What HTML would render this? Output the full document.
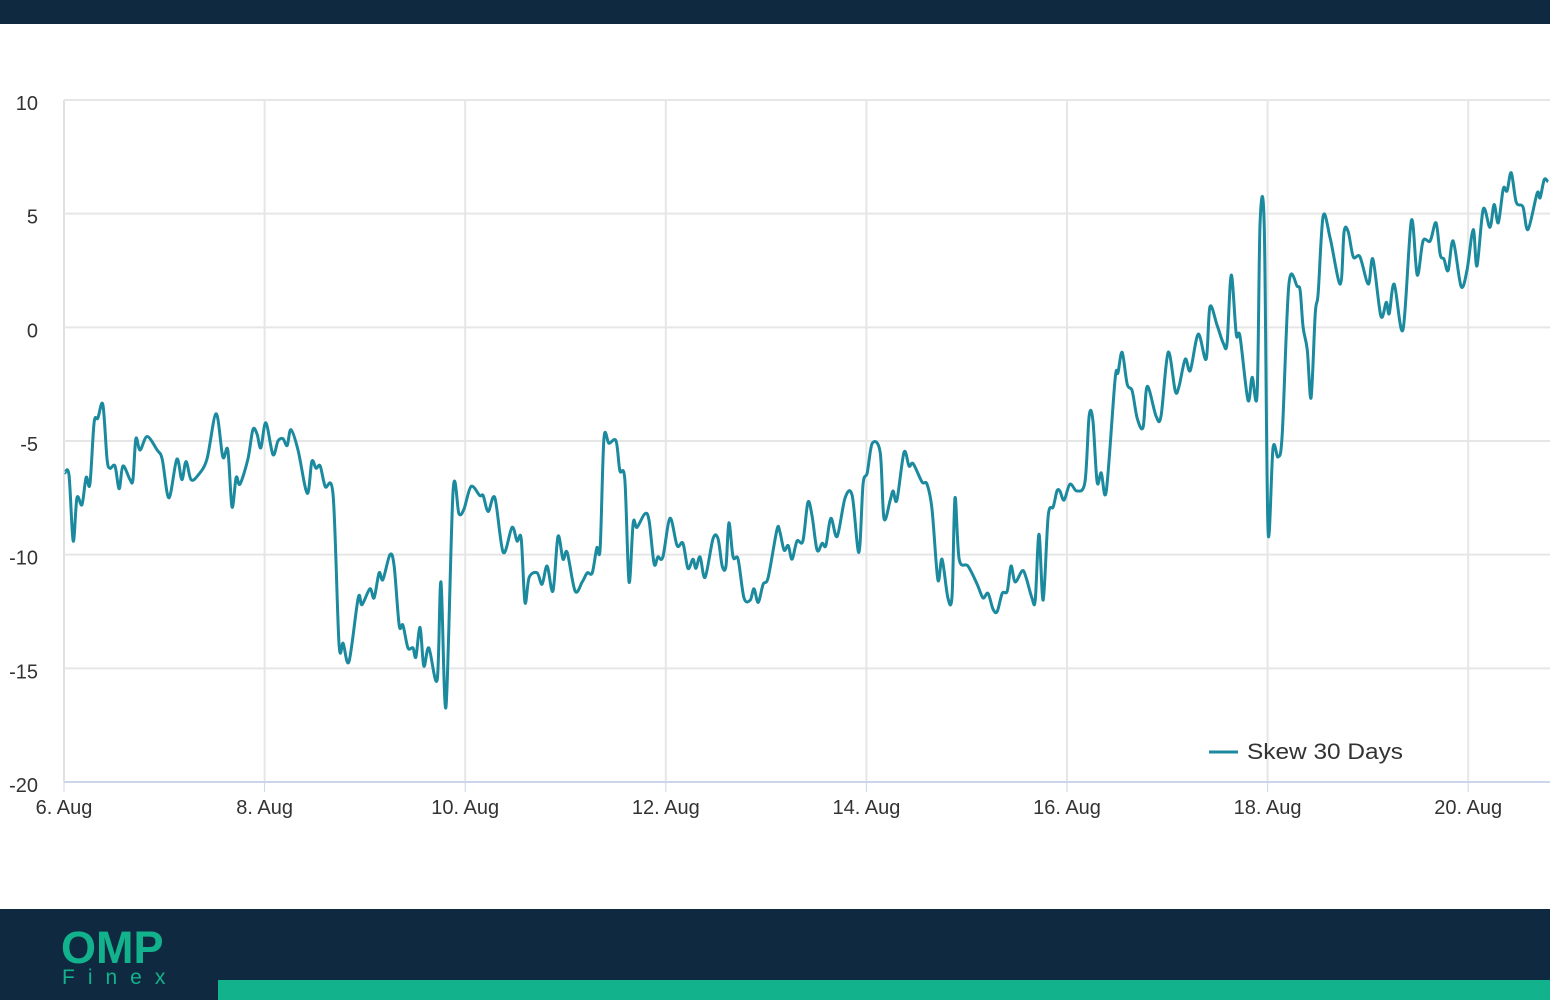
<!DOCTYPE html>
<html><head><meta charset="utf-8"><style>
body{margin:0;width:1550px;height:1000px;overflow:hidden;background:#fff;font-family:"Liberation Sans",sans-serif}
#top{position:absolute;left:0;top:0;width:1550px;height:24px;background:#0f2a40}
#foot{position:absolute;left:0;top:909px;width:1550px;height:91px;background:#0f2a40}
#bar{position:absolute;left:218px;top:980px;width:1332px;height:20px;background:#12b28c}
#omp{position:absolute;left:61px;top:922px;font-size:45px;font-weight:bold;color:#12b28c;letter-spacing:0px}
#finex{position:absolute;left:62px;top:966px;font-size:21px;color:#12b28c;letter-spacing:13px}
svg{position:absolute;left:0;top:0}
</style></head><body>
<div id="top"></div>
<svg id="chart" width="1550" height="1000"></svg>
<div id="foot"></div>
<div id="bar"></div>
<div id="omp">OMP</div>
<div id="finex">Finex</div>
<script>
const hours=[0.2,1.2,2.2,3.1,4.3,5.3,6.2,7.2,8.1,9.3,10.3,11.0,12.2,13.2,14.1,15.8,16.5,17.2,18.2,19.9,22.3,23.5,25.1,27.0,28.2,29.2,30.4,32.1,34.2,36.4,38.0,39.2,40.2,41.2,42.1,44.0,45.2,46.2,47.1,48.3,50.0,51.2,52.4,53.4,54.3,56.0,58.2,59.3,60.3,61.3,62.5,64.4,65.8,66.8,68.2,70.4,71.3,73.2,74.2,75.4,76.3,78.0,79.0,80.2,81.1,82.3,83.5,84.2,85.2,86.1,87.3,89.3,90.2,91.4,93.1,94.5,95.7,97.4,99.5,100.3,101.5,103.1,105.1,107.2,108.4,109.4,110.3,111.3,113.2,114.4,115.6,117.0,118.2,119.4,120.4,122.3,124.0,125.2,126.4,127.5,128.3,129.2,130.4,132.1,133.0,134.2,135.2,136.2,137.1,139.0,140.0,141.2,142.1,143.3,145.0,146.7,148.1,149.3,150.5,151.2,152.2,153.4,155.3,156.5,157.5,158.4,159.1,160.1,161.3,162.7,164.2,165.1,166.1,167.3,168.5,170.6,171.3,172.3,173.3,174.2,175.4,176.8,178.0,179.0,180.2,181.4,182.3,183.5,185.0,186.9,188.6,190.2,191.2,192.2,193.4,195.3,196.2,197.7,198.4,199.3,201.0,202.2,203.2,205.3,206.5,207.7,209.1,210.1,211.5,212.5,213.2,214.2,216.3,218.5,219.9,221.1,222.3,223.3,224.5,225.7,226.6,227.6,229.3,230.2,231.6,232.4,233.3,234.3,235.5,236.7,237.6,238.3,239.3,240.7,242.4,244.3,245.3,246.2,247.2,248.2,249.4,251.5,252.2,253.2,254.4,255.6,256.8,258.2,259.2,261.3,262.5,264.2,265.9,266.8,268.3,269.5,271.4,273.3,274.2,275.9,277.4,278.3,279.3,280.5,281.4,283.3,284.3,285.5,286.2,287.2,288.1,289.3,290.5,291.5,293.1,295.1,295.8,296.5,297.5,298.4,299.4,300.1,301.3,303.0,305.4,306.3,307.3,308.5,310.1,312.1,313.2,315.1,316.4,317.1,318.3,320.4,322.4,323.8,325.2,326.9,328.3,329.3,330.2,331.2,332.4,334.3,335.7,337.2,338.1,339.6,341.2,342.2,343.2,344.4,345.3,346.3,347.5,349.1,350.3,352.5,353.2,354.2,355.1];
const skew=[-6.4,-6.5,-9.4,-7.5,-7.8,-6.6,-6.9,-4.2,-4.0,-3.4,-5.8,-6.2,-6.1,-7.1,-6.1,-6.7,-6.7,-4.9,-5.4,-4.8,-5.4,-5.8,-7.5,-5.8,-6.7,-5.9,-6.7,-6.5,-5.8,-3.8,-5.7,-5.4,-7.9,-6.6,-6.9,-5.8,-4.5,-4.7,-5.3,-4.2,-5.6,-5.0,-4.9,-5.2,-4.5,-5.4,-7.3,-5.9,-6.2,-6.1,-7.0,-7.4,-13.9,-13.9,-14.7,-11.9,-12.2,-11.5,-11.9,-10.8,-11.1,-10.0,-10.5,-13.1,-13.1,-14.1,-14.1,-14.5,-13.2,-14.9,-14.1,-15.5,-11.2,-16.7,-7.2,-8.2,-8.0,-7.0,-7.4,-7.4,-8.1,-7.5,-9.9,-8.8,-9.4,-9.3,-12.1,-11.0,-10.8,-11.3,-10.5,-11.6,-9.2,-10.2,-9.9,-11.6,-11.2,-10.8,-10.8,-9.7,-9.7,-4.9,-5.1,-5.0,-6.3,-6.7,-11.2,-8.6,-8.8,-8.2,-8.5,-10.4,-10.1,-10.1,-8.4,-9.6,-9.5,-10.6,-10.2,-10.6,-10.1,-11.0,-9.3,-9.3,-10.5,-10.5,-8.6,-10.1,-10.2,-11.9,-12.0,-11.5,-12.1,-11.3,-11.0,-8.9,-9.0,-9.8,-9.6,-10.2,-9.4,-9.4,-7.7,-8.3,-9.8,-9.5,-9.6,-8.4,-9.2,-7.5,-7.4,-9.9,-6.9,-6.4,-5.1,-5.5,-8.4,-7.6,-7.2,-7.6,-5.5,-6.1,-6.0,-6.8,-6.9,-8.0,-11.1,-10.2,-11.9,-11.8,-7.5,-10.2,-10.5,-11.3,-11.9,-11.7,-12.4,-12.5,-11.7,-11.6,-10.5,-11.2,-10.7,-11.0,-11.9,-12.0,-9.1,-12.0,-8.3,-7.9,-7.2,-7.2,-7.6,-6.9,-7.2,-6.8,-3.9,-4.1,-6.8,-6.4,-7.2,-2.3,-2.0,-1.1,-2.5,-2.8,-4.0,-4.4,-2.6,-3.9,-3.9,-1.1,-2.8,-2.6,-1.4,-1.9,-0.3,-1.4,0.9,0.1,-0.7,-0.7,2.3,-0.3,-0.4,-3.2,-2.2,-2.9,4.6,4.4,-8.9,-5.3,-5.7,-4.7,1.9,1.8,1.6,0.0,-1.0,-3.1,0.6,1.5,4.9,3.9,1.9,4.2,4.2,3.1,3.1,1.9,3.0,0.5,1.1,0.6,1.9,-0.1,4.7,2.3,3.8,3.8,4.6,3.2,3.0,2.5,3.8,1.8,2.5,4.3,2.7,5.2,4.4,5.4,4.6,6.1,6.0,6.8,5.5,5.3,4.3,5.9,5.7,6.5,6.4];
const yTicks=[10,5,0,-5,-10,-15,-20];
const xTickLabels=["6. Aug","8. Aug","10. Aug","12. Aug","14. Aug","16. Aug","18. Aug","20. Aug"];
const xTickHours=[0,48,96,144,192,240,288,336];

const X0=64,PXH=100.3/24,Y0=100,Y1=782;
const xs=h=>X0+h*PXH;
const ys=v=>Y0+(10-v)*(Y1-Y0)/30;
const svg=document.getElementById('chart');
const NS='http://www.w3.org/2000/svg';
function mk(tag,attrs){const e=document.createElementNS(NS,tag);for(const k in attrs)e.setAttribute(k,attrs[k]);svg.appendChild(e);return e;}
xTickHours.forEach((h,i)=>{
 const g=mk('line',{x1:xs(h),x2:xs(h),y1:Y0,y2:Y1,stroke:i==0?'#e0e0e0':'#e6e6e6','stroke-width':2});
 
 
 const tk=mk('line',{x1:xs(h),x2:xs(h),y1:Y1,y2:Y1+10,stroke:'#ccd6eb','stroke-width':1});
 
 
 const t=mk('text',{x:xs(h),y:Y1+32,'text-anchor':'middle','font-size':20,fill:'#333'});
 t.textContent=xTickLabels[i];
 
 
});
yTicks.forEach(v=>{
 const l=mk('line',{x1:X0,x2:1550,y1:ys(v),y2:ys(v),stroke:v==-20?'#ccd6eb':'#e6e6e6','stroke-width':2});
 
 
 const t=mk('text',{x:38,y:ys(v)+10,'text-anchor':'end','font-size':20,fill:'#333'});
 t.textContent=String(v);
 
 
});
const P=hours.map((h,i)=>[xs(h),ys(skew[i])]);
let d='M'+P[0][0]+','+P[0][1];
for(let i=0;i<P.length-1;i++){
 const p0=P[Math.max(0,i-1)],p1=P[i],p2=P[i+1],p3=P[Math.min(P.length-1,i+2)];
 const t=0.16;
 d+=` C${p1[0]+(p2[0]-p0[0])*t},${p1[1]+(p2[1]-p0[1])*t} ${p2[0]-(p3[0]-p1[0])*t},${p2[1]-(p3[1]-p1[1])*t} ${p2[0]},${p2[1]}`;
}
const line=mk('path',{d:d,fill:'none',stroke:'#1b8a9e','stroke-width':3,'stroke-linejoin':'round'});


const ll=mk('line',{x1:1209,x2:1238,y1:752,y2:752,stroke:'#1b8a9e','stroke-width':3});


const lt=mk('text',{x:1247,y:759,'font-size':22,fill:'#333',textLength:156,lengthAdjust:'spacingAndGlyphs'});
lt.textContent='Skew 30 Days';


</script>
</body></html>
